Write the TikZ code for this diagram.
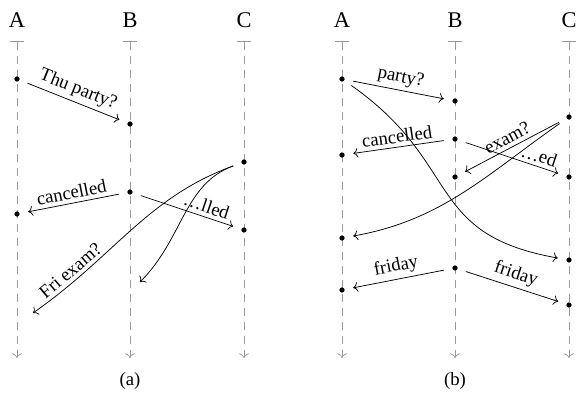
\documentclass[tikz,border=0pt]{standalone}
\usepackage{fontspec}
\setmainfont{Liberation Serif}
\usetikzlibrary{arrows.meta}

\begin{document}
\begin{tikzpicture}[
    >=To,
    x=0.535pt, y=0.535pt,
    head/.style={font=\large},
    life/.style={draw=gray!80, dash pattern=on 4.5pt off 3pt, {Bar[width=7pt]}->},
    ev/.style={circle, fill, inner sep=0pt, minimum size=2.8pt},
    msg/.style={->, shorten <=4.5pt, shorten >=4.5pt},
    lbl/.style={sloped, above, inner sep=2pt}
  ]
  \useasboundingbox (0,0) rectangle (577,-394);

  % (a)
  \foreach \n/\x in {A/17, B/130, C/244} {
    \node[head] (p\n) at (\x,-20) {\n};
    \coordinate (p\n top) at (\x,-41);
    \coordinate (p\n bot) at (\x,-358);
    \draw[life] (p\n top) -- (p\n bot);
  }

  \node[ev] (pA1) at (17,-79) {};
  \node[ev] (pB1) at (130,-124) {};
  \node[ev] (pC1) at (244,-162) {};
  \node[ev] (pB2) at (130,-192) {};
  \node[ev] (pA2) at (17,-214) {};
  \node[ev] (pC2) at (244,-230) {};
  \coordinate (pX1) at (33,-313);
  \coordinate (pX2) at (140,-282);

  \draw[msg] (pA1) -- node[lbl] {Thu party?} (pB1);
  \draw[msg] (pB2) -- node[lbl] {cancelled} (pA2);
  \draw[msg] (pB2) -- node[lbl, pos=0.65] {\dots lled} (pC2);
  \draw[msg, shorten >=0pt] (pC1) to[out=200, in=35] node[lbl, pos=0.8] {Fri exam?} (pX1);
  \draw[msg, shorten >=0pt] (pC1) to[out=200, in=45] (pX2);

  \node (capa) at (130,-381) {(a)};

  % (b)
  \foreach \n/\x in {A/342, B/455, C/569} {
    \node[head] (q\n) at (\x,-20) {\n};
    \coordinate (q\n top) at (\x,-41);
    \coordinate (q\n bot) at (\x,-358);
    \draw[life] (q\n top) -- (q\n bot);
  }

  \node[ev] (qA1) at (342,-79) {};
  \node[ev] (qB1) at (455,-101) {};
  \node[ev] (qC1) at (569,-117) {};
  \node[ev] (qB2) at (455,-139) {};
  \node[ev] (qA2) at (342,-155) {};
  \node[ev] (qB3) at (455,-177) {};
  \node[ev] (qC2) at (569,-177) {};
  \node[ev] (qA3) at (342,-238) {};
  \node[ev] (qC3) at (569,-260) {};
  \node[ev] (qB4) at (455,-268) {};
  \node[ev] (qA4) at (342,-290) {};
  \node[ev] (qC4) at (569,-305) {};

  \draw[msg] (qA1) -- node[lbl] {party?} (qB1);
  \draw[msg] (qA1) to[out=-35, in=170, looseness=1.3] (qC3);
  \draw[msg] (qB2) -- node[lbl] {cancelled} (qA2);
  \draw[msg] (qB2) -- node[lbl, pos=0.72] {\dots ed} (qC2);
  \draw[msg] (qC1) -- node[lbl] {exam?} (qB3);
  \draw[msg] (qC1) to[out=215, in=10] (qA3);
  \draw[msg] (qB4) -- node[lbl] {friday} (qA4);
  \draw[msg] (qB4) -- node[lbl] {friday} (qC4);

  \node (capb) at (455,-381) {(b)};
\end{tikzpicture}
\end{document}
